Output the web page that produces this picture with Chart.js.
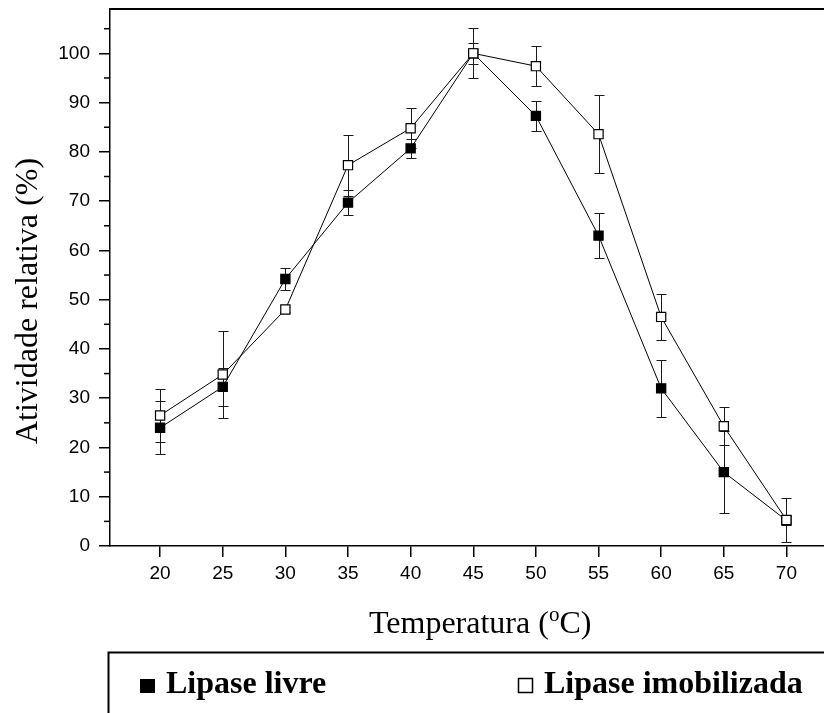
<!DOCTYPE html>
<html><head><meta charset="utf-8">
<script src="https://cdn.jsdelivr.net/npm/chart.js@4.4.1/dist/chart.umd.min.js"></script>
<style>html,body{margin:0;padding:0;background:#fff;overflow:hidden}#wrap{width:824px;height:713px;position:relative}</style>
</head><body><div id="wrap"><canvas id="c"></canvas></div>
<script>
const temperatures = [20, 25, 30, 35, 40, 45, 50, 55, 60, 65, 70];
const freeLipase = [24.0, 32.3, 54.2, 69.7, 80.7, 100.0, 87.3, 63.0, 32.0, 15.0, 5.2];
const freeLipaseErr = [5.4, 3.8, 2.3, 2.5, 2.0, 2.2, 3.1, 4.6, 5.8, 8.3, 1.0];
const immobLipase = [26.5, 34.8, 48.0, 77.3, 84.8, 100.0, 97.4, 83.6, 46.5, 24.3, 5.3];
const immobLipaseErr = [5.3, 8.9, 0.6, 6.2, 4.1, 5.1, 4.0, 7.9, 4.6, 3.9, 4.5];
const xTickValues = [20, 25, 30, 35, 40, 45, 50, 55, 60, 65, 70];
const yTickValues = [0, 10, 20, 30, 40, 50, 60, 70, 80, 90, 100];
const yMinorTickValues = [5, 15, 25, 35, 45, 55, 65, 75, 85, 95, 105];
const seriesLabels = ['Lipase livre', 'Lipase imobilizada'];
const yTitle = 'Atividade relativa (%)';
const xTitleParts = ['Temperatura (', 'o', 'C)'];

const SERIF = '"Liberation Serif", "Times New Roman", serif';
const SANS = '"Liberation Sans", Arial, sans-serif';

const errorBars = {
  id: 'errorBars',
  beforeDatasetsDraw(chart) {
    const {ctx, scales: {x, y}} = chart;
    ctx.save();
    ctx.strokeStyle = '#1a1a1a';
    ctx.lineWidth = 1;
    [[freeLipase, freeLipaseErr], [immobLipase, immobLipaseErr]].forEach(([vals, errs]) => {
      vals.forEach((v, i) => {
        const px = Math.round(x.getPixelForValue(temperatures[i])) + 0.5;
        const top = Math.round(y.getPixelForValue(v + errs[i])) + 0.5;
        const bot = Math.round(y.getPixelForValue(v - errs[i])) + 0.5;
        ctx.beginPath();
        ctx.moveTo(px, top); ctx.lineTo(px, bot);
        ctx.moveTo(px - 5, top); ctx.lineTo(px + 5, top);
        ctx.moveTo(px - 5, bot); ctx.lineTo(px + 5, bot);
        ctx.stroke();
      });
    });
    ctx.restore();
  }
};

const decorations = {
  id: 'decorations',
  afterDraw(chart) {
    const {ctx, scales: {y}, chartArea} = chart;
    ctx.save();
    // minor y ticks
    ctx.strokeStyle = '#000';
    ctx.lineWidth = 1.5;
    yMinorTickValues.forEach(v => {
      const py = y.getPixelForValue(v);
      ctx.beginPath();
      ctx.moveTo(chartArea.left - 6, py);
      ctx.lineTo(chartArea.left, py);
      ctx.stroke();
    });
    // y title
    ctx.fillStyle = '#000';
    ctx.save();
    ctx.translate(37, 301);
    ctx.rotate(-Math.PI / 2);
    ctx.font = '32px ' + SERIF;
    ctx.textAlign = 'center';
    ctx.textBaseline = 'alphabetic';
    ctx.fillText(yTitle, 0, 0);
    ctx.restore();
    // x title with superscript
    ctx.textAlign = 'left';
    ctx.textBaseline = 'alphabetic';
    let tx = 369;
    const by = 633;
    ctx.font = '32px ' + SERIF;
    ctx.fillText(xTitleParts[0], tx, by);
    tx += ctx.measureText(xTitleParts[0]).width;
    ctx.font = '21px ' + SERIF;
    ctx.fillText(xTitleParts[1], tx, by - 12);
    tx += ctx.measureText(xTitleParts[1]).width;
    ctx.font = '32px ' + SERIF;
    ctx.fillText(xTitleParts[2], tx, by);
    // legend box
    ctx.lineWidth = 2;
    ctx.beginPath();
    ctx.moveTo(108.5, 720);
    ctx.lineTo(108.5, 652.5);
    ctx.lineTo(830, 652.5);
    ctx.stroke();
    ctx.fillRect(140, 679, 15, 14);
    ctx.lineWidth = 1.5;
    ctx.strokeRect(518.5, 678.5, 14, 14);
    ctx.font = 'bold 32px ' + SERIF;
    ctx.fillText(seriesLabels[0], 166, 693);
    ctx.fillText(seriesLabels[1], 544, 693);
    ctx.restore();
  }
};

const axisCommon = {
  grid: {drawOnChartArea: false, color: '#000', tickColor: '#000', tickLength: 11, tickWidth: 1.5, lineWidth: 1.5},
  border: {display: true, color: '#000', width: 1.5},
};

new Chart(document.getElementById('c'), {
  type: 'line',
  data: {
    datasets: [
      {
        label: seriesLabels[0],
        data: temperatures.map((t, i) => ({x: t, y: freeLipase[i]})),
        borderColor: '#000', borderWidth: 1,
        backgroundColor: '#000',
        pointStyle: 'rect', pointRadius: 6.5, pointBorderWidth: 1.2,
        pointBackgroundColor: '#000', pointBorderColor: '#000',
        order: 1
      },
      {
        label: seriesLabels[1],
        data: temperatures.map((t, i) => ({x: t, y: immobLipase[i]})),
        borderColor: '#000', borderWidth: 1,
        backgroundColor: '#fff',
        pointStyle: 'rect', pointRadius: 6.5, pointBorderWidth: 1.2,
        pointBackgroundColor: '#fff', pointBorderColor: '#000',
        order: 0
      }
    ]
  },
  options: {
    responsive: true,
    maintainAspectRatio: false,
    animation: false,
    devicePixelRatio: 1,
    layout: {autoPadding: false, padding: {top: 9, left: 0, right: 0, bottom: 127}},
    plugins: {legend: {display: false}, tooltip: {enabled: false}},
    scales: {
      x: {
        type: 'linear', position: 'bottom', min: 16, max: 73,
        ...axisCommon,
        ticks: {color: '#000', font: {family: SANS, size: 19}, padding: 5, maxRotation: 0},
        afterBuildTicks: s => { s.ticks = xTickValues.map(v => ({value: v})); },
        afterFit: s => { s.height = 40; s.paddingLeft = 0; s.paddingRight = 0; }
      },
      x2: {
        type: 'linear', position: 'top', min: 16, max: 73,
        grid: {drawOnChartArea: false, drawTicks: false},
        border: {display: true, color: '#000', width: 2},
        ticks: {display: false},
        afterFit: s => { s.height = 0; s.paddingLeft = 0; s.paddingRight = 0; }
      },
      y: {
        type: 'linear', position: 'left', min: 0, max: 109,
        ...axisCommon,
        ticks: {color: '#000', font: {family: SANS, size: 19}, padding: 9},
        afterBuildTicks: s => { s.ticks = yTickValues.map(v => ({value: v})); },
        afterFit: s => { s.width = 110; s.paddingTop = 0; s.paddingBottom = 0; }
      }
    }
  },
  plugins: [errorBars, decorations]
});
</script>
</body></html>
